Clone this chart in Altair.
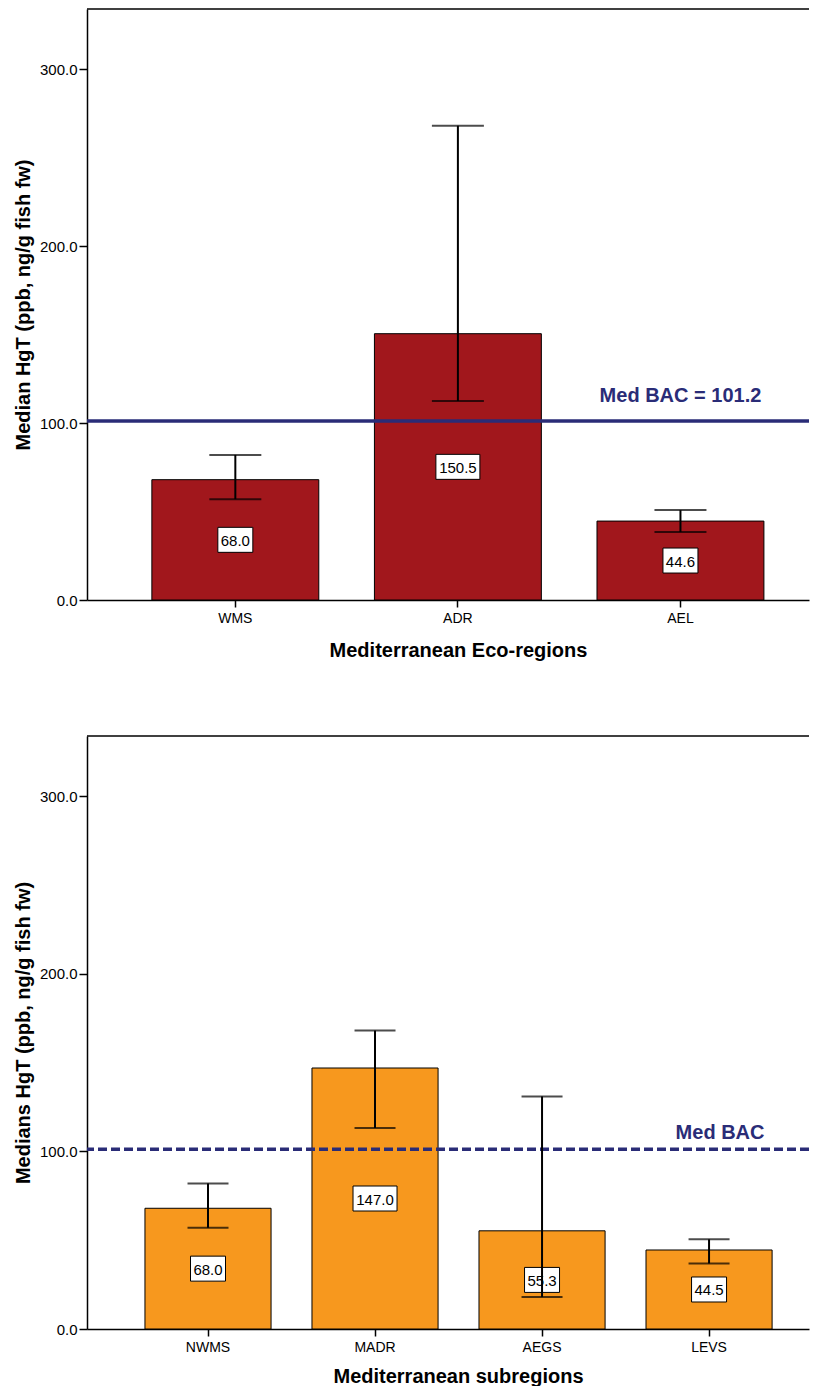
import altair as alt
import pandas as pd

# ---- data ----
top_regions = ["WMS", "ADR", "AEL"]
top_medians = [68.0, 150.5, 44.6]
top_err_low = [57.0, 112.5, 38.4]
top_err_high = [82.0, 268.0, 50.8]

bottom_regions = ["NWMS", "MADR", "AEGS", "LEVS"]
bottom_medians = [68.0, 147.0, 55.3, 44.5]
bottom_err_low = [57.0, 113.2, 18.0, 36.9]
bottom_err_high = [82.0, 168.1, 131.0, 50.5]

bac_value = 101.2
top_bac_label = "Med BAC = 101.2"
bottom_bac_label = "Med BAC"

y_ticks = [0, 100, 200, 300]
y_max = 334

FONT = "Liberation Sans"
NAVY = "#2A2C77"


def panel(regions, medians, lo, hi, fill, xtitle, ytitle, bac_label,
          dashed, x_scale, width, height, cap, label_anchor, label_dx, label_dy,
          title_x, title_pad):
    df = pd.DataFrame({"region": regions, "median": medians, "lo": lo, "hi": hi})
    bac_df = pd.DataFrame({"region": [label_anchor], "bac": [bac_value], "label": [bac_label]})

    x = alt.X("region:N", sort=None, scale=x_scale,
              axis=alt.Axis(title=xtitle, labelAngle=0, labelFont=FONT, labelFontSize=14,
                            labelColor="black", labelPadding=4, tickSize=7, tickWidth=1.5,
                            tickColor="black", domainColor="black", domainWidth=1.5,
                            titleFont=FONT, titleFontSize=20, titleFontWeight="bold",
                            titleColor="black", titlePadding=title_pad, titleX=title_x))
    y = alt.Y("median:Q", scale=alt.Scale(domain=[0, y_max], nice=False, zero=True),
              axis=alt.Axis(title=ytitle, values=y_ticks, format=".1f", grid=False,
                            labelFont=FONT, labelFontSize=15, labelColor="black",
                            labelPadding=2, tickSize=8, tickWidth=1.5, tickColor="black",
                            domainColor="black", domainWidth=1.5,
                            titleFont=FONT, titleFontSize=20, titleFontWeight="bold",
                            titleColor="black", titlePadding=6))

    base = alt.Chart(df)
    bars = base.mark_bar(fill=fill, stroke="black", strokeWidth=1).encode(x=x, y=y)

    boxes = base.transform_calculate(
        w="9*length(format(datum.median, '.1f')) - 1",
        mid="datum.median / 2",
    ).transform_calculate(
        shape="'M' + (-datum.w/2) + ',-12.5h' + datum.w + 'v25h' + (-datum.w) + 'z'"
    ).mark_point(filled=True, fill="white", stroke="black", strokeWidth=1, opacity=1).encode(
        x=alt.X("region:N", sort=None),
        y=alt.Y("mid:Q"),
        shape=alt.Shape("shape:N", scale=None),
        size=alt.value(4),
    )
    texts = base.transform_calculate(mid="datum.median / 2").mark_text(
        font=FONT, fontSize=15, color="black", baseline="middle", dy=1
    ).encode(
        x=alt.X("region:N", sort=None),
        y=alt.Y("mid:Q"),
        text=alt.Text("median:Q", format=".1f"),
    )
    err_rule = base.mark_rule(color="black", strokeWidth=2).encode(
        x=alt.X("region:N", sort=None), y=alt.Y("lo:Q"), y2="hi:Q")
    cap_lo = base.mark_tick(color="black", thickness=2, size=cap, orient="horizontal").encode(
        x=alt.X("region:N", sort=None), y=alt.Y("lo:Q"))
    cap_hi = base.mark_tick(color="black", thickness=2, size=cap, orient="horizontal").encode(
        x=alt.X("region:N", sort=None), y=alt.Y("hi:Q"))

    line_kw = dict(color=NAVY, strokeWidth=3.5)
    if dashed:
        line_kw["strokeDash"] = [9, 4]
    bac_line = alt.Chart(bac_df).mark_rule(**line_kw).encode(y=alt.Y("bac:Q"))
    bac_text = alt.Chart(bac_df).mark_text(
        font=FONT, fontSize=20, fontWeight="bold", color=NAVY, baseline="alphabetic",
        align="center", dx=label_dx, dy=label_dy
    ).encode(x=alt.X("region:N", sort=None), y=alt.Y("bac:Q"), text="label:N")

    frame_top = alt.Chart(bac_df).mark_rule(color="black", strokeWidth=1.5).encode(
        y=alt.value(0))

    return alt.layer(bars, bac_line, boxes, texts, err_rule, cap_lo, cap_hi, bac_text,
                     frame_top).properties(width=width, height=height)


top = panel(top_regions, top_medians, top_err_low, top_err_high, "#A1171C",
            "Mediterranean Eco-regions", "Median HgT (ppb, ng/g fish fw)", top_bac_label,
            False, alt.Scale(paddingInner=0.25, paddingOuter=0.247, align=0.59),
            722, 591, 52, "AEL", 0, -19, 371, 15)
bottom = panel(bottom_regions, bottom_medians, bottom_err_low, bottom_err_high, "#F7981E",
               "Mediterranean subregions", "Medians HgT (ppb, ng/g fish fw)", bottom_bac_label,
               True, alt.Scale(paddingInner=0.245, paddingOuter=0.284, align=0.611),
               722, 593, 41, "LEVS", 11, -10, 371, 12)

chart = alt.vconcat(top, bottom, spacing=75).properties(
    padding={"left": 5, "top": 0, "right": 0, "bottom": 0},
    background="white",
).configure_view(strokeWidth=0, stroke="transparent")

chart.save("out.html", embed_options={"renderer": "svg", "actions": False})
